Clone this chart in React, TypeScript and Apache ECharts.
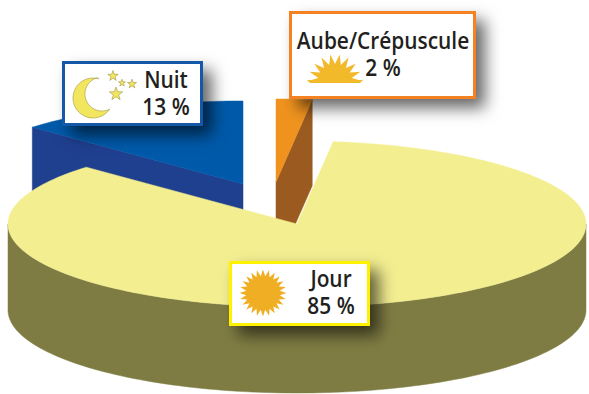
import React, { useEffect, useRef } from "react";
import * as echarts from "echarts";

const categories = ["Nuit", "Aube/Crépuscule", "Jour"];
const values = [13, 2, 85];
const percentLabels = ["13 %", "2 %", "85 %"];

const START_DEG = -46.8;
const RX = 289;
const RY = 83;
const DEPTH = 86;
const apexes = [
  [243, 184],
  [276, 182],
  [297, 224],
];
const topColors = ["#0059A9", "#F0931E", "#F3EE90"];
const wallColors = ["#1F3F8F", "#9A5A20", "#7F7C43"];
const FONT = '"Open Sans", sans-serif';

const total = values.reduce((a, b) => a + b, 0);
const rad = (d: number) => (d * Math.PI) / 180;

function rim(cx: number, cy: number, deg: number): number[] {
  return [cx + RX * Math.sin(rad(deg)), cy - RY * Math.cos(rad(deg))];
}
function arc(cx: number, cy: number, a: number, b: number): number[][] {
  const n = Math.max(2, Math.ceil(Math.abs(b - a) / 1.5));
  const out: number[][] = [];
  for (let i = 0; i <= n; i++) out.push(rim(cx, cy, a + ((b - a) * i) / n));
  return out;
}
const down = (p: number[]) => [p[0], p[1] + DEPTH];

function renderSlice(params: any, api: any) {
  const i = params.dataIndex;
  const v = api.value(0);
  let before = 0;
  for (let k = 0; k < i; k++) before += values[k];
  const a = START_DEG + (before / total) * 360;
  const b = a + (v / total) * 360;
  const [cx, cy] = apexes[i];
  const children: any[] = [];
  const top = arc(cx, cy, a, b);
  const fill = wallColors[i];
  if (v > total / 2) {
    const front = arc(cx, cy, 90, 270);
    children.push({
      type: "polygon",
      shape: { points: [...front, ...front.slice().reverse().map(down)] },
      style: { fill, stroke: fill, lineWidth: 0.5 },
    });
  } else {
    const edge = i === 0 ? rim(cx, cy, a) : rim(cx, cy, b);
    const apex = [cx, cy];
    children.push({
      type: "polygon",
      shape: { points: [apex, edge, down(edge), down(apex)] },
      style: { fill, stroke: fill, lineWidth: 0.5 },
    });
  }
  children.push({
    type: "polygon",
    shape: { points: [[cx, cy], ...top] },
    style: { fill: topColors[i], stroke: topColors[i], lineWidth: 0.5 },
  });
  return { type: "group", children };
}

function starPoints(cx: number, cy: number, R: number, r: number, n: number, from = -90, to = 270): number[][] {
  const pts: number[][] = [];
  const steps = n * 2;
  for (let i = 0; i <= steps; i++) {
    if (i === steps && to - from === 360) break;
    const ang = rad(from + ((to - from) * i) / steps);
    const m = i % 2 === 0 ? R : r;
    pts.push([cx + m * Math.cos(ang), cy + m * Math.sin(ang)]);
  }
  return pts;
}

function crescent(): number[][] {
  const pts: number[][] = [];
  const [ox, oy, or] = [93, 98, 20];
  for (let d = -73; d >= -327; d -= 6) {
    pts.push([ox + or * Math.cos(rad(d)), oy + or * Math.sin(rad(d))]);
  }
  const [ix, iy, ir] = [102, 94, 17];
  for (let d = 62; d <= 259; d += 6) {
    pts.push([ix + ir * Math.cos(rad(d)), iy + ir * Math.sin(rad(d))]);
  }
  return pts;
}

function box(x: number, y: number, w: number, h: number, border: string) {
  return {
    type: "rect",
    z: 50,
    shape: { x, y, width: w, height: h },
    style: {
      fill: "#FFFFFF",
      stroke: border,
      lineWidth: 3,
      shadowBlur: 16,
      shadowOffsetX: 9,
      shadowOffsetY: 9,
      shadowColor: "rgba(0,0,0,0.6)",
    },
  };
}
function label(text: string, x: number, y: number) {
  return {
    type: "text",
    z: 60,
    x,
    y,
    scaleX: 0.87,
    style: {
      text,
      fill: "#231F20",
      font: `600 24px ${FONT}`,
      lineHeight: 27,
      align: "center",
      verticalAlign: "middle",
    },
  };
}
function shape(points: number[][], fill: string, stroke?: string) {
  return {
    type: "polygon",
    z: 55,
    shape: { points },
    style: { fill, stroke: stroke ?? fill, lineWidth: stroke ? 0.5 : 0 },
  };
}

export default function App() {
  const ref = useRef<HTMLDivElement>(null);
  useEffect(() => {
    document.body.style.margin = "0";
    const chart = echarts.init(ref.current!, undefined, { renderer: "svg" });
    const moonLine = "#8F8536";
    chart.setOption({
      animation: false,
      backgroundColor: "#FFFFFF",
      series: [
        {
          type: "custom",
          coordinateSystem: "none",
          silent: true,
          clip: false,
          renderItem: renderSlice,
          data: values.map((v, i) => ({ name: categories[i], value: [v] })),
        },
      ],
      graphic: {
        elements: [
          box(63.5, 62.5, 138, 62, "#1559A8"),
          box(290.5, 12.5, 184, 85, "#F58220"),
          box(230.5, 262.5, 138, 62, "#FFF200"),
          shape(crescent(), "#F3E65F", moonLine),
          shape(starPoints(113, 76, 5.5, 2.2, 5), "#F3E65F", moonLine),
          shape(starPoints(122, 83, 3.8, 1.5, 5), "#F3E65F", moonLine),
          shape(starPoints(132, 84, 4.8, 1.9, 5), "#F3E65F", moonLine),
          shape(starPoints(116, 94, 7, 2.8, 5), "#F3E65F", moonLine),
          shape(starPoints(263, 293, 23.5, 17, 24), "#F0AE24"),
          shape(starPoints(335, 81, 27, 17, 9, 180, 360), "#F2B92B"),
          {
            type: "polygon",
            z: 55,
            shape: { points: [[307, 80], [363, 80], [360, 83], [310, 83]] },
            style: { fill: "#F2B92B" },
          },
          label(`${categories[0]}\n${percentLabels[0]}`, 166, 92.5),
          label(`${categories[1]}\n${percentLabels[1]}`, 383, 53),
          label(`${categories[2]}\n${percentLabels[2]}`, 331, 291.5),
        ],
      },
    });
    return () => chart.dispose();
  }, []);
  return <div ref={ref} style={{ width: 589, height: 394, overflow: "hidden" }} />;
}
